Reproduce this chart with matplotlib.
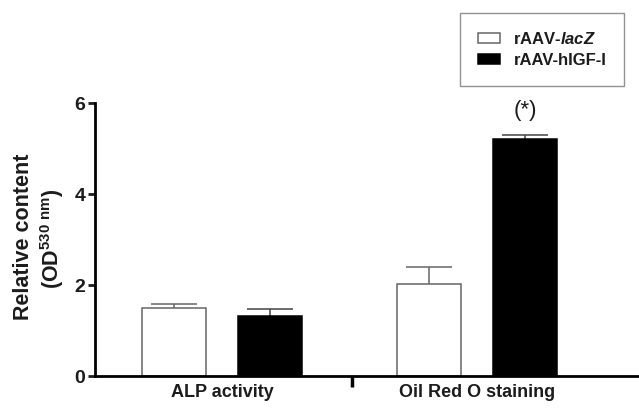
import numpy as np
import matplotlib.pyplot as plt

plt.rcParams['font.family'] = 'Liberation Sans'
plt.rcParams['font.weight'] = 'bold'
plt.rcParams['mathtext.fontset'] = 'custom'
plt.rcParams['mathtext.rm'] = 'Liberation Sans:bold'
plt.rcParams['mathtext.bf'] = 'Liberation Sans:bold'
plt.rcParams['mathtext.it'] = 'Liberation Sans:italic:bold'

# data
groups = ['ALP activity', 'Oil Red O staining']
lacz = [1.49, 2.02]
lacz_err = [0.09, 0.37]
higf = [1.33, 5.21]
higf_err = [0.15, 0.09]
series_names = ['rAAV-$\\it{lacZ}$', 'rAAV-hIGF-I']

txt = '#1c1c1c'
fig = plt.figure(figsize=(6.39, 4.08), dpi=100)
ax = fig.add_axes([0.1487, 0.0784, 0.8513, 0.669])

centers = np.array([0.0, 2.656])
w = 0.667
cap = 0.24
x1 = centers - 0.5
x2 = centers + 0.5

b1 = ax.bar(x1, lacz, w, color='white', edgecolor='#666666', linewidth=1.1,
            label=series_names[0], zorder=2)
b2 = ax.bar(x2, higf, w, color='black', edgecolor='black', linewidth=1.1,
            label=series_names[1], zorder=2)

# upper-only error bars
top1 = np.array(lacz) + np.array(lacz_err)
top2 = np.array(higf) + np.array(higf_err)
ax.vlines(x1, lacz, top1, color='#666666', lw=1.1, zorder=1)
ax.hlines(top1, x1 - cap, x1 + cap, color='#666666', lw=1.1, zorder=1)
ax.vlines(x2, higf, top2, color='#444444', lw=1.1, zorder=1)
ax.hlines(top2, x2 - cap, x2 + cap, color='#444444', lw=1.1, zorder=1)

ax.text(x2[1], 5.6, '(*)', ha='center', va='bottom', fontsize=16,
        fontweight='normal', color=txt)

ax.set_xlim(-1.323, 4.34)
ax.set_ylim(0, 6)
ax.set_yticks([0, 2, 4, 6])
ax.tick_params(axis='y', length=5, width=2, labelsize=14, colors=txt, pad=2)
ax.set_xticks([(centers[0] + centers[1]) / 2 + 0.02])
ax.set_xticklabels([''])
ax.tick_params(axis='x', which='major', length=8, width=2.5, direction='out')
ax.set_xticks(centers, minor=True)
ax.set_xticklabels(groups, minor=True, fontsize=13, color=txt)
ax.tick_params(axis='x', which='minor', length=0, pad=6)

for s in ['top', 'right']:
    ax.spines[s].set_visible(False)
for s in ['left', 'bottom']:
    ax.spines[s].set_linewidth(2)
    ax.spines[s].set_color('black')

fig.text(0.036, 0.42, 'Relative content', rotation=90, ha='center', va='center',
         fontsize=15.5, color=txt)
fig.text(0.081, 0.415, '(OD$^{\\mathrm{530\\ nm}}$)', rotation=90, ha='center',
         va='center', fontsize=15.5, color=txt)

leg = fig.legend(handles=[b1, b2], loc='center',
                 bbox_to_anchor=(0.72, 0.792, 0.257, 0.174),
                 bbox_transform=fig.transFigure, mode='expand',
                 borderaxespad=0, fancybox=False, edgecolor='#777777',
                 fontsize=12, handlelength=1.3, handleheight=0.55,
                 borderpad=1.1, labelspacing=0.35, handletextpad=0.8)
leg.get_frame().set_linewidth(1)
for t in leg.get_texts():
    t.set_color(txt)

fig.savefig('out.png', dpi=100)
